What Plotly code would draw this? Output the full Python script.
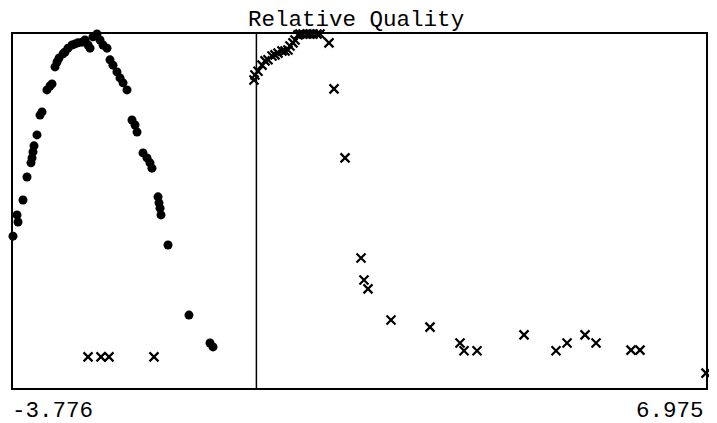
import plotly.graph_objects as go

title_text = "Relative Quality"
x_min, x_max = -3.776, 6.975
tick_labels = ["-3.776", "6.975"]

dot_x = [-3.776, -3.714, -3.698, -3.621, -3.559, -3.497, -3.481, -3.466, -3.450, -3.404,
         -3.357, -3.326, -3.249, -3.202, -3.171, -3.124, -3.093, -3.062, -3.000, -2.969,
         -2.923, -2.861, -2.814, -2.768, -2.706, -2.659, -2.612, -2.581, -2.535, -2.473,
         -2.426, -2.380, -2.318, -2.271, -2.225, -2.163, -2.116, -2.069, -2.007, -1.930,
         -1.883, -1.852, -1.759, -1.697, -1.651, -1.620, -1.526, -1.511, -1.495, -1.480,
         -1.371, -1.046, -0.720, -0.673]
dot_y = [0.429, 0.489, 0.469, 0.531, 0.596, 0.636, 0.650, 0.667, 0.684, 0.715,
         0.771, 0.780, 0.842, 0.853, 0.859, 0.907, 0.921, 0.932, 0.944, 0.949,
         0.960, 0.969, 0.972, 0.975, 0.977, 0.983, 0.969, 0.960, 0.992, 1.000,
         0.983, 0.969, 0.960, 0.927, 0.912, 0.893, 0.876, 0.862, 0.842, 0.757,
         0.743, 0.723, 0.664, 0.650, 0.636, 0.621, 0.540, 0.523, 0.508, 0.489,
         0.404, 0.206, 0.127, 0.116]

cross_x = [-2.612, -2.411, -2.287, -1.589,
           -0.037, -0.022, 0.025, 0.087, 0.134, 0.180, 0.242, 0.289, 0.335, 0.397,
           0.444, 0.490, 0.521, 0.568, 0.599, 0.645, 0.676, 0.723, 0.785, 0.832,
           0.878, 0.940, 0.987, 1.126, 1.204, 1.375, 1.623, 1.669, 1.731, 2.088,
           2.693, 3.159, 3.221, 3.423, 4.152, 4.648, 4.819, 5.098, 5.269, 5.812,
           5.951, 6.975]
cross_y = [0.088, 0.088, 0.088, 0.088,
           0.870, 0.884, 0.895, 0.912, 0.924, 0.927, 0.938, 0.941, 0.946, 0.952,
           0.952, 0.955, 0.966, 0.975, 0.983, 0.997, 1.000, 1.000, 1.000, 1.000,
           1.000, 1.000, 1.000, 0.975, 0.845, 0.650, 0.367, 0.305, 0.280, 0.192,
           0.172, 0.127, 0.105, 0.105, 0.150, 0.105, 0.127, 0.150, 0.127, 0.107,
           0.107, 0.042]

font_family = "Liberation Mono, DejaVu Sans Mono, monospace"
font_size = 22.5

fig = go.Figure()
fig.add_trace(go.Scatter(
    x=dot_x, y=dot_y, mode="markers",
    marker=dict(symbol="circle", size=9, color="black"),
    cliponaxis=False, showlegend=False))
fig.add_trace(go.Scatter(
    x=cross_x, y=cross_y, mode="markers",
    marker=dict(symbol="x-thin", size=9, color="black",
                line=dict(width=2.2, color="black")),
    cliponaxis=False, showlegend=False))

fig.add_shape(type="line", xref="x", yref="paper", x0=0, x1=0, y0=0, y1=1,
              line=dict(color="black", width=1.5))

fig.add_annotation(x=x_min, y=0, xref="x", yref="paper", text=tick_labels[0],
                   xanchor="left", yanchor="top", yshift=-8, xshift=-3, showarrow=False,
                   font=dict(family=font_family, size=font_size, color="black"))
fig.add_annotation(x=x_max, y=0, xref="x", yref="paper", text=tick_labels[1],
                   xanchor="right", yanchor="top", yshift=-8, showarrow=False,
                   font=dict(family=font_family, size=font_size, color="black"))

fig.update_layout(
    width=709, height=415,
    margin=dict(l=5, r=11, t=26, b=35, autoexpand=False),
    paper_bgcolor="white", plot_bgcolor="white",
    title=dict(text=title_text, x=0.491, xanchor="center", y=0.976, yanchor="middle",
               font=dict(family=font_family, size=font_size, color="black")),
    xaxis=dict(range=[x_min, x_max], showgrid=False, zeroline=False, showticklabels=False,
               ticks="", showline=True, mirror=True, linecolor="black", linewidth=1.5),
    yaxis=dict(range=[0, 1], showgrid=False, zeroline=False, showticklabels=False,
               ticks="", showline=True, mirror=True, linecolor="black", linewidth=1.5),
)

fig.write_html("out.html")
